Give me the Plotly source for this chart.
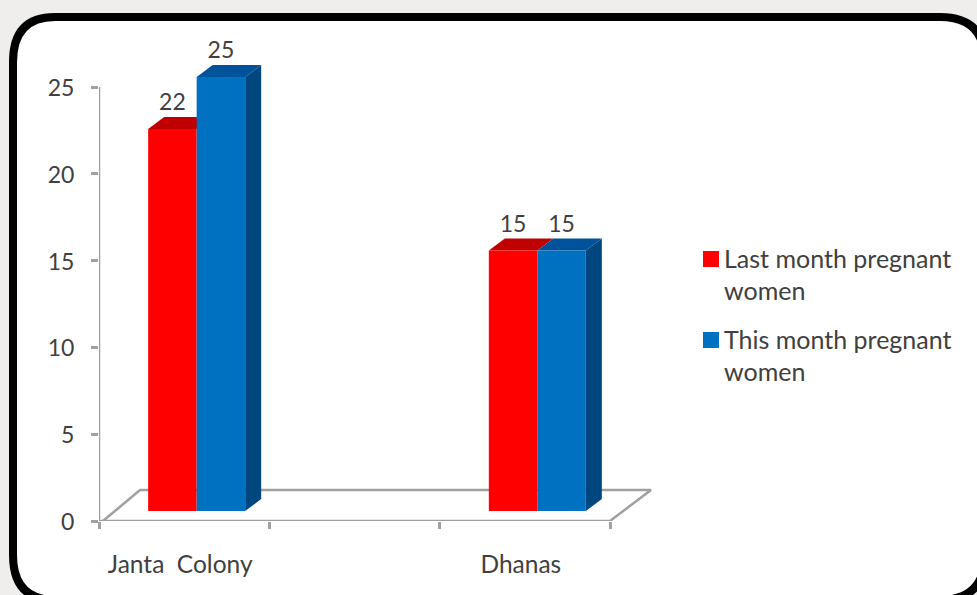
import plotly.graph_objects as go

categories = ["Janta  Colony", " ", "Dhanas"]
last_month = [22, None, 15]
this_month = [25, None, 15]
series_names = ["Last month pregnant<br>women", "This month pregnant<br>women"]
y_ticks = [0, 5, 10, 15, 20, 25]

FONT = "Lato"
TXT = "#404040"
GREY = "#a0a0a0"
W, H = 977, 595
L, R0, T0, B = 99, 610, 87, 521     # axes positions
R, T = 665, 30                      # plot area extended so that 3-D faces are not clipped
XU = (R0 - L) / 3
YU = (B - T0) / 25
XMAX = (R - L) / XU
YMAX = (B - T) / YU
base = 10 / YU
dx, dy = 16 / XU, 12 / YU
bw = 48.5 / XU
offs = [(148 - 184) / XU, (196.5 - 184) / XU]
front = ["#ff0000", "#0070c0"]
tops = ["#c00000", "#00529b"]
sides = ["#a00000", "#00477f"]

def px(x): return (x - L) / (R - L)
def py(y): return (B - y) / (B - T)

fig = go.Figure()

# floor
fx, fy = 41 / XU, 31 / YU
fig.add_trace(go.Scatter(x=[4 / XU, fx, 3 + fx, 3], y=[0, fy, fy, 0], mode="lines",
                         line=dict(color=GREY, width=2.5), showlegend=False,
                         hoverinfo="skip", cliponaxis=False, xaxis="x", yaxis="y"))
# axis lines
fig.add_trace(go.Scatter(x=[0, 0, None, 0, 3], y=[0, 25, None, 0, 0], mode="lines",
                         line=dict(color=GREY, width=2.5), showlegend=False,
                         hoverinfo="skip", cliponaxis=False, xaxis="x", yaxis="y"))

# 3-D faces and labels, derived from the values
for s, vals in enumerate([last_month, this_month]):
    for i, v in enumerate(vals):
        if v is None:
            continue
        x0 = i + 0.5 + offs[s]
        x1 = x0 + bw
        t = base + v
        fig.add_trace(go.Scatter(x=[x0, x0 + dx, x1 + dx, x1, x0], y=[t, t + dy, t + dy, t, t],
                                 fill="toself", fillcolor=tops[s], mode="none", showlegend=False,
                                 hoverinfo="skip", cliponaxis=False, xaxis="x", yaxis="y"))
        if s == 1:
            fig.add_trace(go.Scatter(x=[x1, x1 + dx, x1 + dx, x1, x1],
                                     y=[t, t + dy, base + dy, base, t],
                                     fill="toself", fillcolor=sides[s], mode="none", showlegend=False,
                                     hoverinfo="skip", cliponaxis=False, xaxis="x", yaxis="y"))
        fig.add_trace(go.Scatter(x=[(x0 + x1) / 2], y=[t + dy + 1 / YU], mode="text", text=[str(v)],
                                 textposition="top center",
                                 textfont=dict(family=FONT, size=23, color=TXT), showlegend=False,
                                 hoverinfo="skip", cliponaxis=False, xaxis="x", yaxis="y"))

# front faces
for s, vals in enumerate([last_month, this_month]):
    fig.add_trace(go.Bar(x=categories, y=vals, base=base, width=bw, offset=offs[s],
                         showlegend=False, marker=dict(color=front[s], line=dict(width=0)),
                         cliponaxis=False, xaxis="x2", yaxis="y"))

# legend entries
for s in range(2):
    fig.add_trace(go.Scatter(x=[None], y=[None], mode="markers", name=series_names[s],
                             marker=dict(symbol="square", size=16, color=front[s]),
                             legendgroup=f"g{s}", xaxis="x", yaxis="y"))

shapes = [dict(type="path", xref="paper", yref="paper", layer="below",
               path=(f"M {px(55)} {py(17)} L {px(940)} {py(17)} Q {px(985)} {py(17)} {px(985)} {py(62)} "
                     f"L {px(985)} {py(555)} Q {px(985)} {py(600)} {px(940)} {py(600)} "
                     f"L {px(55)} {py(600)} Q {px(13)} {py(600)} {px(13)} {py(555)} "
                     f"L {px(13)} {py(62)} Q {px(13)} {py(17)} {px(55)} {py(17)} Z"),
               fillcolor="white", line=dict(color="black", width=8))]

fig.update_layout(
    width=W, height=H,
    margin=dict(l=L, r=W - R, t=T, b=H - B, autoexpand=False),
    paper_bgcolor="#efeeec", plot_bgcolor="rgba(0,0,0,0)",
    barmode="overlay", shapes=shapes,
    font=dict(family=FONT, size=23, color=TXT),
    xaxis=dict(range=[0, XMAX], tickmode="array", tickvals=[0, 1, 2, 3], ticktext=["", "", "", ""],
               ticks="outside", ticklen=7, tickcolor=GREY, tickwidth=2.5, showgrid=False,
               zeroline=False, showline=False),
    xaxis2=dict(overlaying="x", side="bottom", type="category", range=[-0.5, XMAX - 0.5],
                categoryorder="array", categoryarray=categories, showgrid=False, zeroline=False,
                showline=False, ticks="", ticklabelstandoff=26, ticklabelshift=-4,
                tickfont=dict(family=FONT, size=24.5, color=TXT)),
    yaxis=dict(range=[0, YMAX], tickmode="array", tickvals=y_ticks, ticks="outside", ticklen=7,
               tickcolor=GREY, tickwidth=2.5, showgrid=False, zeroline=False, showline=False,
               ticklabelstandoff=12, ticklabelshift=1,
               tickfont=dict(family=FONT, size=23, color=TXT)),
    legend=dict(x=px(684), y=py(235), xanchor="left", yanchor="top", bgcolor="rgba(0,0,0,0)",
                font=dict(family=FONT, size=25, color=TXT), tracegroupgap=13,
                itemwidth=30, traceorder="grouped"),
)

post = """
document.body.style.margin='0';document.body.style.background='#efeeec';
(function(){
  var gd=document.getElementById('{plot_id}');
  var f=function(){gd.querySelectorAll('.legendsymbols').forEach(function(e){e.setAttribute('transform','translate(7,-15)');});};
  f(); setTimeout(f,0); setTimeout(f,200); if(gd.on){gd.on('plotly_afterplot',f);}
})();
"""
fig.write_html("out.html", config={"displayModeBar": False}, post_script=post)
